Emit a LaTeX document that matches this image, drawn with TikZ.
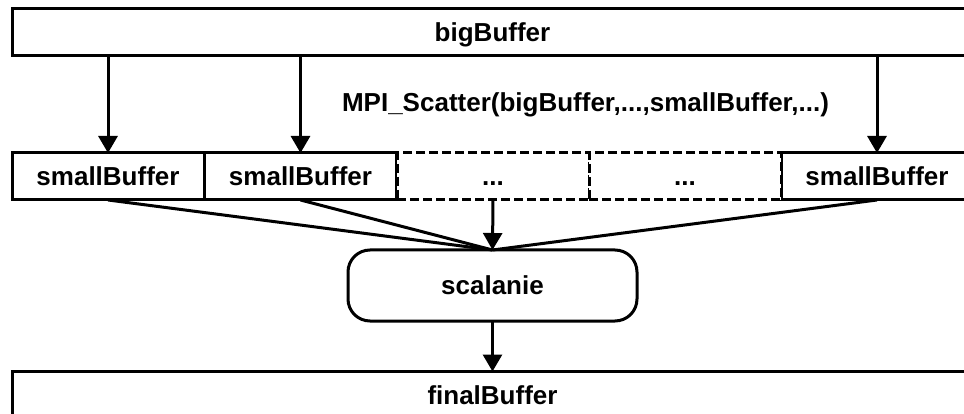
\documentclass[tikz,border=0pt]{standalone}
\usepackage{fontspec}
\setmainfont{Liberation Sans}
\usetikzlibrary{arrows.meta}
\begin{document}
\begin{tikzpicture}[x=1pt,y=-1pt,
  every node/.style={font=\fontsize{26}{30}\selectfont\bfseries,
    inner sep=0pt, outer sep=0pt, text height=18.6pt, text depth=0pt},
  buf/.style={draw, line width=3pt, minimum height=47pt, minimum width=192pt},
  widebuf/.style={buf, minimum width=961pt},
  ghostbuf/.style={buf, fill=white, dash pattern=on 9pt off 4pt},
  procbox/.style={draw, line width=3pt, rounded corners=22pt,
    minimum width=289pt, minimum height=71pt},
  link/.style={line width=3pt},
  flow/.style={line width=3pt, -{Triangle[length=17pt,width=19pt]}}
]
\useasboundingbox (0,0) rectangle (964,414);
\clip (0,0) rectangle (964,414);

% source buffer
\node[widebuf] (big) at (492.5,32.5) {bigBuffer};

% scattered pieces
\node[buf] (sb1) at (108,176.5) {smallBuffer};
\node[buf] (sb2) at (300.5,176.5) {smallBuffer};
\node[buf] (sb5) at (877,176.5) {smallBuffer};
\node[ghostbuf] (sb3) at (493,176.5) {...};
\node[ghostbuf] (sb4) at (685,176.5) {...};

\node (call) at (585.5,102) {MPI\_Scatter(bigBuffer,...,smallBuffer,...)};

% merge step and result
\node[procbox] (merge) at (492.5,285.5) {scalanie};
\node[widebuf] (final) at (492.5,395) {finalBuffer};

% scatter arrows
\draw[flow] (big.south -| sb1.north) -- (sb1.north);
\draw[flow] (big.south -| sb2.north) -- (sb2.north);
\draw[flow] (big.south -| sb5.north) -- (sb5.north);

% gather into merge
\draw[link] (sb1.south) -- (merge.north);
\draw[link] (sb2.south) -- (merge.north);
\draw[link] (sb5.south) -- (merge.north);
\draw[flow] (sb3.south) -- (merge.north);

\draw[flow] (merge.south) -- (merge.south |- final.north);
\end{tikzpicture}
\end{document}
